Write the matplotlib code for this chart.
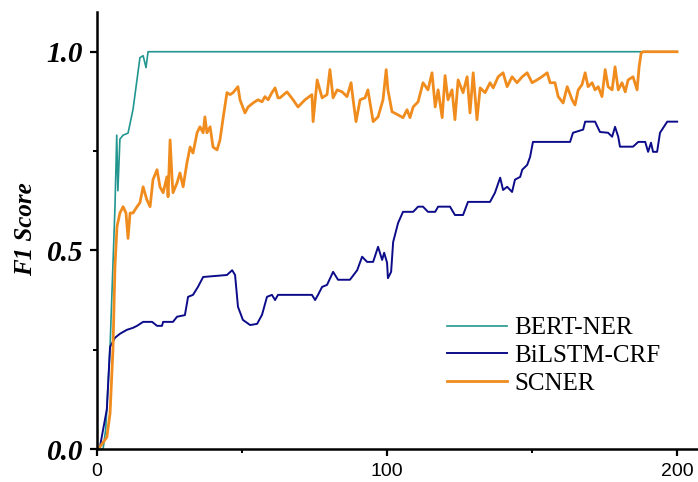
import numpy as np
import matplotlib
matplotlib.use("Agg")
import matplotlib.pyplot as plt
from matplotlib.ticker import MultipleLocator

# data (epoch, F1)
bert_x = [0, 2.1, 3.0, 4.5, 6.2, 6.8, 7.2, 7.9, 9.0, 10.7, 12.4, 13.8, 14.8, 15.9, 16.9, 17.6, 200]
bert_y = [0, 0.0, 0.05, 0.257, 0.61, 0.79, 0.65, 0.78, 0.79, 0.795, 0.854, 0.93, 0.985, 0.99, 0.96, 1.0, 1.0]

bilstm_x = [1.0, 3.4, 4.5, 6.2, 7.9, 10.3, 12.4, 13.8, 15.9, 19.0, 20.7, 22.4, 22.8, 26.2, 27.6, 30.3,
            31.4, 33.1, 34.8, 36.6, 44.8, 46.6, 47.6, 48.6, 50.3, 52.8, 55.2, 56.9, 58.6, 60.3, 61.4,
            62.4, 74.1, 75.2, 76.2, 77.6, 79.3, 81.4, 83.1, 87.2, 89.7, 91.4, 93.1, 95.2, 96.9, 98.3,
            99.0, 100.0, 100.3, 101.4, 102.1, 103.8, 105.5, 109.0, 110.7, 112.4, 114.1, 116.6, 117.6,
            121.7, 123.4, 126.2, 127.9, 135.5, 137.2, 139.0, 140.0, 141.4, 143.1, 144.1, 145.9, 146.6,
            148.3, 149.3, 150.3, 163.1, 164.1, 167.6, 168.3, 171.7, 173.4, 176.2, 177.6, 178.6, 179.7,
            180.3, 184.8, 186.6, 189.0, 190.0, 191.0, 191.7, 193.1, 194.1, 196.6, 200.0]
bilstm_y = [0.005, 0.1, 0.257, 0.28, 0.29, 0.30, 0.305, 0.31, 0.32, 0.32, 0.31, 0.31, 0.32, 0.32, 0.333, 0.337,
            0.383, 0.388, 0.408, 0.433, 0.438, 0.45, 0.438, 0.358, 0.325, 0.312, 0.315, 0.338, 0.383, 0.388, 0.375,
            0.388, 0.388, 0.375, 0.388, 0.408, 0.413, 0.446, 0.426, 0.426, 0.45, 0.484, 0.471, 0.471, 0.509, 0.476,
            0.494, 0.469, 0.43, 0.446, 0.521, 0.569, 0.597, 0.597, 0.61, 0.61, 0.597, 0.597, 0.61,
            0.61, 0.589, 0.589, 0.622, 0.622, 0.645, 0.683, 0.652, 0.66, 0.647, 0.678, 0.685, 0.703,
            0.715, 0.735, 0.773, 0.773, 0.796, 0.804, 0.824, 0.824, 0.798, 0.796, 0.786, 0.811, 0.786,
            0.761, 0.761, 0.773, 0.773, 0.748, 0.771, 0.748, 0.748, 0.796, 0.824, 0.824]

scner_x = [1.0, 3.4, 4.5, 5.5, 6.2, 6.9, 7.9, 9.0, 10.0, 10.7, 11.4, 12.4, 13.8, 14.8, 15.9, 17.2, 18.3,
           19.3, 20.7, 21.7, 22.8, 24.1, 24.5, 25.2, 25.9, 26.2, 27.6, 28.6, 29.7, 31.0, 32.1, 33.1, 34.5,
           35.5, 36.6, 37.2, 37.9, 39.0, 40.0, 41.4, 42.4, 43.4, 44.8, 45.9, 46.9, 48.6, 49.3, 51.0, 52.1,
           53.8, 55.5, 56.9, 57.9, 59.0, 60.3, 61.4, 62.4, 63.1, 65.5, 67.6, 69.3, 71.7, 74.1, 74.5, 75.9,
           77.6, 79.3, 80.3, 81.4, 82.8, 84.5, 86.2, 87.6, 88.3, 89.3, 90.7, 92.4, 93.4, 95.2, 96.9, 98.6,
           99.7, 100.3, 101.7, 103.8, 105.5, 106.9, 107.9, 109.0, 110.7, 112.4, 114.1, 115.5, 116.6, 117.6,
           119.0, 120.0, 121.0, 122.4, 123.4, 124.5, 126.2, 127.6, 128.6, 129.7, 131.0, 132.1, 133.8, 135.5,
           136.6, 138.3, 140.0, 141.4, 143.1, 144.8, 146.6, 148.3, 150.0, 151.7, 153.4, 155.2, 156.2, 157.9,
           159.0, 160.7, 162.1, 163.8, 164.8, 165.9, 167.2, 168.3, 169.3, 170.7, 171.7, 172.8, 174.1, 175.2,
           176.2, 177.6, 178.6, 179.7, 181.0, 182.1, 183.1, 184.8, 186.2, 186.9, 187.6, 188.3, 200.0]
scner_y = [0.005, 0.03, 0.09, 0.25, 0.46, 0.56, 0.594, 0.61, 0.594, 0.53, 0.594, 0.594, 0.61, 0.62, 0.66, 0.627, 0.61,
           0.678, 0.703, 0.66, 0.645, 0.685, 0.635, 0.778, 0.678, 0.645, 0.67, 0.695, 0.66, 0.72, 0.76, 0.745, 0.796,
           0.811, 0.796, 0.836, 0.796, 0.811, 0.76, 0.753, 0.778, 0.829, 0.897, 0.892, 0.897, 0.912, 0.879, 0.846, 0.861,
           0.871, 0.879, 0.874, 0.887, 0.879, 0.897, 0.909, 0.884, 0.884, 0.899, 0.879, 0.861, 0.879, 0.892, 0.824, 0.929,
           0.884, 0.892, 0.955, 0.884, 0.904, 0.899, 0.887, 0.922, 0.879, 0.824, 0.879, 0.884, 0.904, 0.824, 0.836, 0.879,
           0.955, 0.904, 0.849, 0.841, 0.834, 0.854, 0.834, 0.861, 0.874, 0.922, 0.904, 0.947, 0.861, 0.904,
           0.834, 0.94, 0.879, 0.904, 0.829, 0.929, 0.897, 0.937, 0.846, 0.947, 0.829, 0.909, 0.897, 0.922,
           0.909, 0.937, 0.947, 0.912, 0.937, 0.922, 0.937, 0.947, 0.922, 0.929, 0.937, 0.947, 0.922, 0.922,
           0.887, 0.871, 0.912, 0.879, 0.866, 0.904, 0.917, 0.947, 0.912, 0.922, 0.904, 0.912, 0.887, 0.955,
           0.912, 0.904, 0.962, 0.904, 0.922, 0.899, 0.929, 0.937, 0.904, 0.962, 0.997, 1.0, 1.0]

names = ["BERT-NER", "BiLSTM-CRF", "SCNER"]
colors = ["#22968f", "#0c0c8a", "#f08c1e"]

fig = plt.figure(figsize=(6.98, 4.82), dpi=100)
ax = fig.add_axes([97/698, 1-449/482, 1-97/698, 437/482])

ax.plot(bert_x, bert_y, color=colors[0], lw=1.2, label=names[0])
ax.plot(bilstm_x, bilstm_y, color=colors[1], lw=1.4, label=names[1])
ax.plot(scner_x, scner_y, color=colors[2], lw=2.0, label=names[2])

ax.set_xlim(0, 207.2)
ax.set_ylim(0, 1.10)
ax.spines["top"].set_visible(False)
ax.spines["right"].set_visible(False)
ax.spines["left"].set_linewidth(1.8)
ax.spines["bottom"].set_linewidth(1.8)

ax.xaxis.set_major_locator(MultipleLocator(100))
ax.xaxis.set_minor_locator(MultipleLocator(50))
ax.yaxis.set_major_locator(MultipleLocator(0.5))
ax.yaxis.set_minor_locator(MultipleLocator(0.25))
ax.tick_params(which="major", direction="out", length=5, width=1.6)
ax.tick_params(which="minor", direction="out", length=3, width=1.4)
ax.tick_params(axis="y", pad=5)
ax.tick_params(axis="x", pad=5)

ax.set_yticks([0, 0.5, 1.0])
ax.set_yticklabels(["0.0", "0.5", "1.0"], fontfamily="Liberation Serif", fontweight="bold",
                   fontstyle="italic", fontsize=21)
ax.set_xticks([0, 100, 200])
ax.set_xticklabels(["0", "100", "200"], fontfamily="Liberation Sans", fontsize=14)

fig.text(26/698, 1-229/482, "F1 Score", rotation=90, ha="center", va="center",
         fontfamily="Liberation Serif", fontweight="bold", fontstyle="italic", fontsize=18)

leg = ax.legend(loc="upper left", bbox_to_anchor=(447/698, 1-317/482), bbox_transform=fig.transFigure,
                frameon=False, borderpad=0, borderaxespad=0, handlelength=2.4, handletextpad=0.3,
                labelspacing=0.2, prop={"family": "Liberation Serif", "size": 18})

fig.savefig("out.png", dpi=100)
